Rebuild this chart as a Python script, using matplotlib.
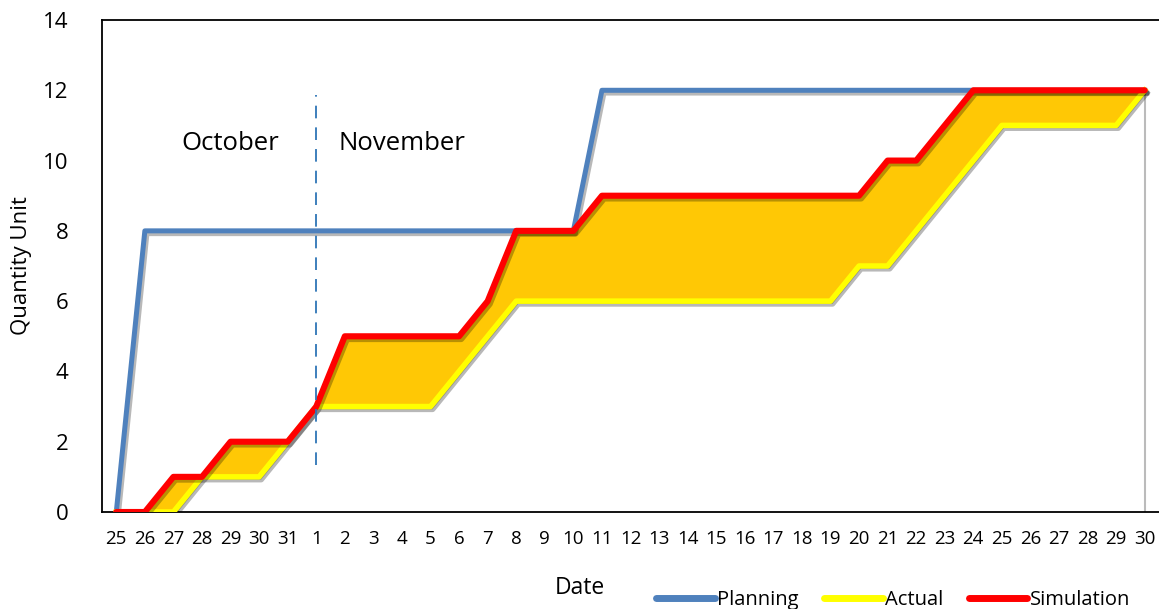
import matplotlib
matplotlib.use("Agg")
import matplotlib.pyplot as plt
import matplotlib.patheffects as pe
from matplotlib.lines import Line2D
import numpy as np

plt.rcParams['font.family'] = ['Open Sans', 'DejaVu Sans']

dates = ['25', '26', '27', '28', '29', '30', '31'] + [str(d) for d in range(1, 31)]
planning = [0, 8, 8, 8, 8, 8, 8,
            8, 8, 8, 8, 8, 8, 8, 8, 8, 8,
            12, 12, 12, 12, 12, 12, 12, 12, 12, 12,
            12, 12, 12, 12, 12, 12, 12, 12, 12, 12]
actual = [0, 0, 0, 1, 1, 1, 2,
          3, 3, 3, 3, 3, 4, 5, 6, 6, 6,
          6, 6, 6, 6, 6, 6, 6, 6, 6, 7,
          7, 8, 9, 10, 11, 11, 11, 11, 11, 12]
simulation = [0, 0, 1, 1, 2, 2, 2,
              3, 5, 5, 5, 5, 5, 6, 8, 8, 8,
              9, 9, 9, 9, 9, 9, 9, 9, 9, 9,
              10, 10, 11, 12, 12, 12, 12, 12, 12, 12]
month_labels = ['October', 'November']
series_names = ['Planning', 'Actual', 'Simulation']
series_colors = ['#4F81BD', '#FFFF00', '#FF0000']

x = np.arange(len(dates))

fig = plt.figure(figsize=(11.59, 6.09), dpi=100)
ax = fig.add_axes([102/1159, 1-512/609, 1-102/1159, (512-20)/609])

shadow = [pe.SimpleLineShadow(offset=(1.5, -2), shadow_color='black', alpha=0.28, rho=0.3), pe.Normal()]

ax.fill_between(x, actual, simulation, color='#FFC805', zorder=1, lw=0,
                path_effects=[pe.SimplePatchShadow(offset=(1.5, -2), shadow_rgbFace='black', alpha=0.25), pe.Normal()])
ax.plot(x, planning, color=series_colors[0], lw=3.6, zorder=2, path_effects=shadow)
ax.plot(x, actual, color=series_colors[1], lw=4.0, zorder=3, path_effects=shadow)
ax.plot(x, simulation, color=series_colors[2], lw=4.4, zorder=4, path_effects=shadow,
        solid_capstyle='round')

ax.plot([x[-1], x[-1]], [0, simulation[-1]], color='#BBBBBB', lw=1.5, zorder=0)

ax.plot([7, 7], [1.34, 11.87], color='#2E75B6', lw=1.3, linestyle=(0, (7, 5)), zorder=5)
ax.text(4.0, 10.5, month_labels[0], fontsize=18.5, ha='center', va='center')
ax.text(10.0, 10.5, month_labels[1], fontsize=18.5, ha='center', va='center')

ax.set_xlim(-0.5, len(dates) - 0.5)
ax.set_ylim(0, 14)
ax.set_yticks(np.arange(0, 15, 2))
ax.set_xticks(x)
ax.set_xticklabels(dates, fontsize=13.5)
ax.tick_params(axis='y', labelsize=16, length=0, pad=24)
ax.tick_params(axis='x', length=0, pad=13)
for s in ['left', 'bottom', 'top']:
    ax.spines[s].set_color('black')
    ax.spines[s].set_linewidth(1.3)
ax.spines['right'].set_visible(False)

ax.set_ylabel('Quantity Unit', fontsize=16, labelpad=8)
fig.text(580/1159, 1-588/609, 'Date', fontsize=16.5, ha='center', va='center')

handles = [Line2D([], [], color=c, lw=5, solid_capstyle='round') for c in series_colors]
fig.legend(handles, series_names, loc='center', bbox_to_anchor=(893/1159, 1-600/609), ncol=3,
           frameon=False, fontsize=14.5, handlelength=2.9, handletextpad=0.1, columnspacing=1.3)

fig.savefig('out.png', dpi=100)
